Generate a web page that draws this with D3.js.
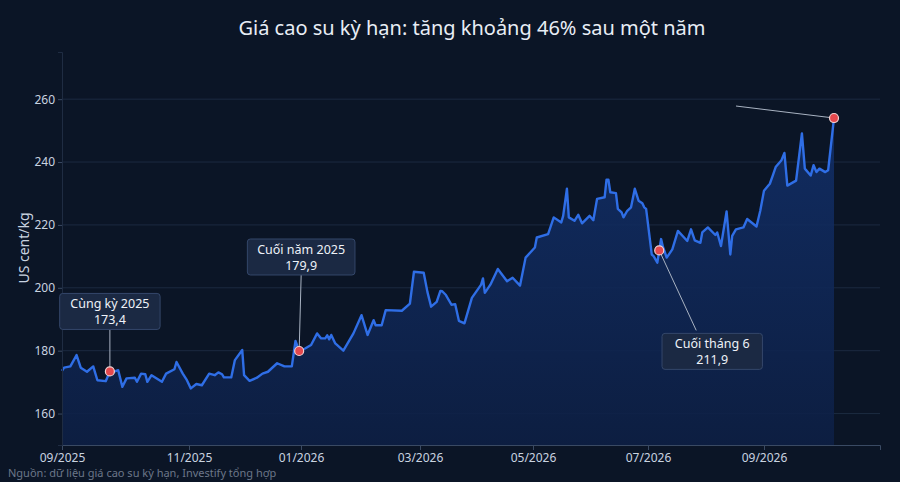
<!DOCTYPE html>
<html><head><meta charset="utf-8">
<script src="https://cdn.jsdelivr.net/npm/d3@7"></script>
<style>body{margin:0;background:#0b1526;}svg{display:block;font-family:"Noto Sans",sans-serif;}</style>
</head><body><svg id="c" width="900" height="482"></svg>
<script>
const dates = ["2025-09-01","2025-09-02","2025-09-05","2025-09-08","2025-09-10","2025-09-13","2025-09-16","2025-09-18","2025-09-22","2025-09-24","2025-09-26","2025-09-28","2025-09-30","2025-10-02","2025-10-06","2025-10-07","2025-10-09","2025-10-11","2025-10-12","2025-10-14","2025-10-19","2025-10-21","2025-10-25","2025-10-26","2025-10-29","2025-10-31","2025-11-02","2025-11-05","2025-11-08","2025-11-12","2025-11-15","2025-11-17","2025-11-19","2025-11-20","2025-11-24","2025-11-26","2025-11-30","2025-12-01","2025-12-04","2025-12-08","2025-12-11","2025-12-14","2025-12-19","2025-12-23","2025-12-27","2025-12-29","2025-12-31","2026-01-03","2026-01-06","2026-01-09","2026-01-11","2026-01-13","2026-01-14","2026-01-15","2026-01-16","2026-01-18","2026-01-22","2026-01-27","2026-01-31","2026-02-03","2026-02-06","2026-02-07","2026-02-10","2026-02-12","2026-02-20","2026-02-24","2026-02-26","2026-03-03","2026-03-05","2026-03-07","2026-03-10","2026-03-12","2026-03-13","2026-03-15","2026-03-18","2026-03-20","2026-03-22","2026-03-25","2026-03-29","2026-04-03","2026-04-04","2026-04-05","2026-04-08","2026-04-12","2026-04-17","2026-04-20","2026-04-24","2026-04-27","2026-05-02","2026-05-03","2026-05-09","2026-05-12","2026-05-16","2026-05-17","2026-05-19","2026-05-20","2026-05-23","2026-05-25","2026-05-27","2026-05-31","2026-06-02","2026-06-04","2026-06-08","2026-06-09","2026-06-10","2026-06-11","2026-06-14","2026-06-15","2026-06-17","2026-06-18","2026-06-20","2026-06-22","2026-06-24","2026-06-26","2026-06-28","2026-06-29","2026-06-30","2026-07-03","2026-07-04","2026-07-06","2026-07-07","2026-07-08","2026-07-09","2026-07-11","2026-07-14","2026-07-17","2026-07-22","2026-07-24","2026-07-26","2026-07-29","2026-07-30","2026-08-02","2026-08-06","2026-08-07","2026-08-09","2026-08-12","2026-08-14","2026-08-15","2026-08-17","2026-08-21","2026-08-23","2026-08-28","2026-08-30","2026-09-01","2026-09-03","2026-09-04","2026-09-05","2026-09-07","2026-09-08","2026-09-09","2026-09-12","2026-09-14","2026-09-15","2026-09-17","2026-09-18","2026-09-19","2026-09-20","2026-09-22","2026-09-23","2026-09-25"];
const prices = [173.6,174.6,175,178.6,174.6,173.3,175,170.6,170.3,173.4,173.3,173.8,168.5,171.2,171.4,170.1,172.7,172.5,170.1,172.2,170.1,172.7,174.1,176.4,172.7,170.6,168,169.4,169,172.7,172.2,173.1,172.5,171.5,171.5,177,180.2,172.2,170.4,171.4,172.7,173.3,176,175,175,183.1,179.9,180.7,181.8,185.5,183.9,183.9,184.9,183.6,185,182.3,180,185.5,191.3,185,189.7,188.1,188.1,192.9,192.7,195,205.1,204.8,198.7,194,195.5,199,198.9,197.7,194.6,194.8,189.5,188.7,196.8,201,203,198.4,201,206,202.1,203.2,200.7,209.6,212.8,216,217.1,222.4,220.8,222.9,231.5,222.4,221.3,223.2,220.5,222.9,221.5,228.3,228.8,234.4,234.4,230.4,230.1,225.1,224,222.4,224.5,225.6,231.5,227.7,226.9,225.6,225.1,210.6,210.1,208,211.9,215.5,213,209.6,212.2,218.1,214.9,218.6,215.1,214.3,217.6,219.2,216.8,217.6,213.3,224.3,210.6,216.5,218.6,219.2,221.9,219.5,224.5,230.9,233.1,235.7,238.4,240.6,242.9,232.5,234.1,249.1,237.9,235.7,239,236.8,237.9,236.8,237.4,254.0];
const tickDates = ["2025-09-01","2025-11-01","2026-01-01","2026-03-01","2026-05-01","2026-07-01","2026-09-01"];
const tickLabels = ["09/2025","11/2025","01/2026","03/2026","05/2026","07/2026","09/2026"];
const yTicks = [160,180,200,220,240,260];
const annDates = ["2025-09-24","2025-12-31","2026-07-07","2026-09-25"];
const annTitles = ["Cùng kỳ 2025","Cuối năm 2025","Cuối tháng 6","25/9/2026"];
const annValues = ["173,4","179,9","211,9","254,0"];

const P = d3.timeParse("%Y-%m-%d");
const n = Math.min(dates.length, prices.length);
const data = dates.slice(0,n).map((d,i)=>({d:P(d),v:prices[i]}));
const svg = d3.select("#c");
const x = d3.scaleTime()
  .domain([...tickDates.map(P), P("2026-09-25"), P("2026-10-11")])
  .range([62,189,301,420,533,648,764,834,880]);
const y = d3.scaleLinear().domain([150,275]).range([445,52]);

const defs = svg.append("defs");
const g = defs.append("linearGradient").attr("id","ga").attr("x1",0).attr("x2",0).attr("y1",0).attr("y2",1);
g.append("stop").attr("offset","0%").attr("stop-color","#12306b").attr("stop-opacity",0.85);
g.append("stop").attr("offset","100%").attr("stop-color","#0d1f44").attr("stop-opacity",0.9);

svg.append("g").selectAll("line").data(yTicks).join("line")
  .attr("x1",62).attr("x2",880).attr("y1",d=>y(d)).attr("y2",d=>y(d))
  .attr("stroke","#1c2a40").attr("stroke-width",1);

svg.append("path").datum(data).attr("fill","url(#ga)")
  .attr("d",d3.area().x(d=>x(d.d)).y0(y(150)).y1(d=>y(d.v)));
svg.append("path").datum(data).attr("fill","none").attr("stroke","#2f6ee6").attr("stroke-width",2.4)
  .attr("stroke-linejoin","round").attr("d",d3.line().x(d=>x(d.d)).y(d=>y(d.v)));

const xa = svg.append("g").attr("transform","translate(0,445)")
  .call(d3.axisBottom(x).tickValues(tickDates.map(P)).tickFormat((d,i)=>tickLabels[i]).tickSize(5));
xa.select(".domain").attr("stroke","#3a4a63");
xa.selectAll(".tick line").attr("stroke","#3a4a63");
xa.selectAll("text").attr("fill","#c9d3e0").attr("font-size",12).attr("font-family","Noto Sans");
const ya = svg.append("g").attr("transform","translate(62,0)")
  .call(d3.axisLeft(y).tickValues(yTicks).tickSize(4));
ya.select(".domain").attr("stroke","#1f2c42");
ya.selectAll(".tick line").attr("stroke","#3a4a63");
ya.selectAll("text").attr("fill","#c9d3e0").attr("font-size",12).attr("font-family","Noto Sans");

svg.append("text").attr("x",472).attr("y",35).attr("text-anchor","middle").attr("fill","#e8edf5")
  .attr("font-size",20).text("Giá cao su kỳ hạn: tăng khoảng 46% sau một năm");
svg.append("text").attr("transform","translate(29,248) rotate(-90)").attr("text-anchor","middle")
  .attr("fill","#c9d3e0").attr("font-size",14).text("US cent/kg");
svg.append("text").attr("x",8).attr("y",477).attr("fill","#6b7789").attr("font-size",11)
  .text("Nguồn: dữ liệu giá cao su kỳ hạn, Investify tổng hợp");

const boxOff = [[0,-60],[2,-94],[53,101],[-136,-151]];
const lineEnd = [[0,-42],[2,-76],[37,80],[-98,-12]];
annDates.forEach((ds,i)=>{
  const dd = data.find(o=>+o.d===+P(ds));
  const cx = x(dd.d), cy = y(dd.v);
  const bx = cx+boxOff[i][0], by = cy+boxOff[i][1];
  svg.append("line").attr("x1",cx).attr("y1",cy).attr("x2",cx+lineEnd[i][0]).attr("y2",cy+lineEnd[i][1])
    .attr("stroke","#a9b3c2").attr("stroke-width",1);
  const t1 = annTitles[i];
  const w = Math.max(t1.length*7.2, 40)+14;
  svg.append("rect").attr("x",bx-w/2).attr("y",by-18).attr("width",w).attr("height",36).attr("rx",3)
    .attr("fill","#1b2943").attr("stroke","#34476a");
  svg.append("text").attr("x",bx).attr("y",by-3).attr("text-anchor","middle").attr("fill","#eef2f8").attr("font-size",12.5).text(t1);
  svg.append("text").attr("x",bx).attr("y",by+13).attr("text-anchor","middle").attr("fill","#eef2f8").attr("font-size",12.5).text(annValues[i]);
  svg.append("circle").attr("cx",cx).attr("cy",cy).attr("r",4.5).attr("fill","#e5484d").attr("stroke","#f3d2d2").attr("stroke-width",1.2);
});
</script></body></html>
